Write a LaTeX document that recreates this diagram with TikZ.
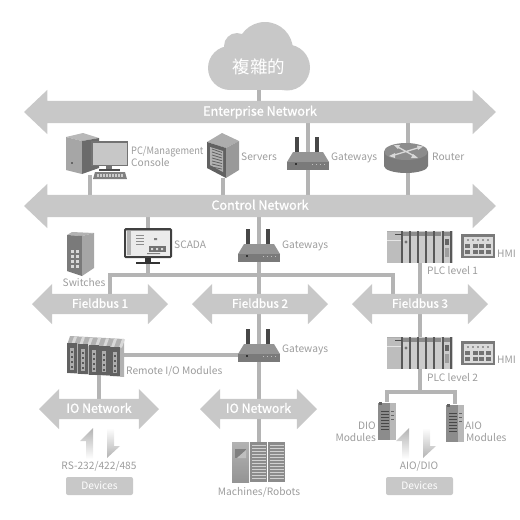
\documentclass[tikz,border=0pt]{standalone}
\usepackage{fontspec}
\usetikzlibrary{shapes.arrows,backgrounds}
\setmainfont{Noto Sans CJK TC}
\newfontfamily\netfont[FakeBold=1.2]{Noto Sans CJK TC}
\definecolor{arrowgray}{HTML}{C8C8C8}
\definecolor{linegray}{HTML}{B4B4B4}
\definecolor{labelgray}{HTML}{9C9C9C}
\tikzset{
  x=1pt,y=-1pt,
  bigarrow/.style={shape=double arrow,fill=arrowgray,text=white,inner sep=0pt,outer sep=0pt,
    text height=14.7pt,text depth=7.3pt,minimum width=44pt,double arrow head extend=11pt,
    double arrow tip angle=87,font=\netfont\fontsize{12.6}{13}\selectfont},
  smallarrow/.style={bigarrow,text height=13.8pt,text depth=6.2pt,minimum width=40pt,
    double arrow head extend=10pt,double arrow tip angle=90,font=\netfont\fontsize{11.8}{13}\selectfont},
  ioarrow/.style={smallarrow,font=\netfont\fontsize{12.4}{13}\selectfont},
  conn/.style={draw=linegray,line width=3.2pt},
  lbl/.style={text=labelgray,inner sep=0pt,text height=7.4pt,text depth=0pt,font=\fontsize{10.2}{12}\selectfont},
  icon/.style={inner sep=0pt,outer sep=0pt},
  devbox/.style={fill=arrowgray,rounded corners=2pt,text=white,inner sep=0pt,text height=7.4pt,text depth=0pt,
    font=\fontsize{10.2}{12}\selectfont,minimum width=67pt,minimum height=18pt},
  gatewaypic/.pic={
    \fill[black!72] (8,0) rectangle (12,16);
    \fill[black!72] (28,0) rectangle (32,16);
    \fill[black!42] (6,15) -- (36,15) -- (42,25) -- (0,25) -- cycle;
    \fill[black!52] (0,25) rectangle (42,33);
    \fill[black!80] (8,26) rectangle (10,28);
    \foreach \q in {25,29,33,37} \fill[black!25] (\q,27) rectangle (\q+1,28);
  },
  plcpic/.pic={
    \fill[black!20] (0,0) rectangle (66,32);
    \fill[black!26] (0,0) rectangle (14,32);
    \fill[black!32] (0,0) rectangle (14,1);
    \draw[black!10,line width=.6pt] (0,9) -- (14,9);
    \foreach \q in {15,23,31,39,47,56,64}{
      \fill[black!65] (\q-.7,0) rectangle (\q+.7,32);
    }
    \foreach \q in {16,24,32,40,48,57}{
      \fill[black!45] (\q,1) rectangle (\q+6,5);
    }
    \fill[black!70] (8,3) rectangle (15,4);
    \fill[black!55] (19,11) circle (1.6);
    \fill[black!60] (58,8) rectangle (62,14);
    \fill[black!38] (58,17) rectangle (62,26);
  },
  hmipic/.pic={
    \fill[black!52] (0,0) rectangle (34,24);
    \fill[black!14] (2.5,2.5) rectangle (31.5,21.5);
    \foreach \q in {6,11,16,21,26}\fill[black!40] (\q,5) rectangle (\q+2,7);
    \foreach \q in {5,13,19,26}{
      \fill[black!55] (\q-1,10) rectangle (\q+4,14);
      \fill[black!55] (\q-1,16) rectangle (\q+4,20);
    }
  },
  modulepic/.pic={
    \fill[black!45] (0,1) rectangle (18,38);
    \fill[black!28] (12,1) rectangle (18,38);
    \fill[black!62] (1,0) rectangle (4,3);
    \foreach \q in {9,12,15,18,21,24,27}\fill[black!72] (3,\q) rectangle (11,\q+1.2);
    \foreach \q in {9,13,17}\fill[black!60] (13,\q) rectangle (16,\q+1);
  },
  updownpic/.pic={
    \shade[top color=black!30,bottom color=white] (13,0) -- (0,13) -- (6,13) -- (6,31) -- (13,31) -- cycle;
    \shade[top color=white,bottom color=black!30] (27,0) -- (34,0) -- (34,18) -- (40,18) -- (27,30) -- cycle;
  }
}
\pgfdeclarelayer{under}
\pgfsetlayers{under,main}
\begin{document}
\begin{tikzpicture}
\useasboundingbox (0,0) rectangle (520,520);

% cloud
\fill[arrowgray] (230,68) circle (22);
\fill[arrowgray] (237,46) circle (13);
\fill[arrowgray] (265,50) circle (28);
\fill[arrowgray] (287,67.5) circle (23);
\fill[arrowgray] (230,60) rectangle (287,90);
\node[icon,text=white,font=\fontsize{17.5}{18}\selectfont] (cloud) at (259,67) {複雜的};

% network arrows
\node[bigarrow,minimum height=472pt] (ent) at (260,112) {Enterprise Network};
\node[bigarrow,minimum height=472pt] (ctrl) at (260,206) {Control Network};
\node[smallarrow,minimum height=136pt] (fb1) at (100,304) {Fieldbus 1};
\node[smallarrow,minimum height=136pt] (fb2) at (260,304) {Fieldbus 2};
\node[smallarrow,minimum height=136pt] (fb3) at (420,304) {Fieldbus 3};
\node[ioarrow,minimum height=120pt] (io1) at (99,409) {IO Network};
\node[ioarrow,minimum height=117pt] (io2) at (258.5,409) {IO Network};

% PC
\node[icon,minimum width=63pt,minimum height=46pt] (pc) at (96.5,156) {};
\coordinate (pcdrop) at (90,175);
\fill[black!28] (66,137) -- (83,133) -- (99,138) -- (82,141) -- cycle;
\fill[black!35] (66,137) -- (82,141) -- (82,174) -- (66,170) -- cycle;
\fill[black!58] (82,141) -- (99,138) -- (99,168) -- (82,174) -- cycle;
\fill[black!60] (71,162) rectangle (73,164);
\fill[black!55] (91,141) rectangle (128,166);
\fill[black!22] (92.5,142.5) rectangle (126.5,164.5);
\fill[black!55] (106,166) rectangle (112,169);
\fill[black!70] (99,169) rectangle (120,170.5);
\fill[black!50] (95,172) -- (125,172) -- (127,179) -- (93,179) -- cycle;
\foreach \q in {97,100,...,122}\fill[black!20] (\q,174) rectangle (\q+1.7,177);

% servers
\node[icon,minimum width=32pt,minimum height=45pt] (srv) at (223,155.5) {};
\fill[black!32] (222,133) -- (239,141) -- (226,148) -- (207,142) -- cycle;
\fill[black!62] (207,142) -- (226,148) -- (226,178) -- (207,168) -- cycle;
\fill[black!40] (226,148) -- (239,141) -- (239,170) -- (226,178) -- cycle;
\fill[black!30] (210,147) -- (223,151) -- (223,172) -- (210,165) -- cycle;
\foreach \q in {0,3,...,18}\draw[black!62,line width=.8pt] (212,149+\q) -- (222,152.5+\q*.92);

% gateways
\pic at (287,137) {gatewaypic};
\node[icon,minimum width=42pt,minimum height=33pt] (gw1) at (308,153.5) {};
\pic at (238,229) {gatewaypic};
\node[icon,minimum width=42pt,minimum height=33pt] (gw2) at (259.5,245.5) {};
\pic at (238,329) {gatewaypic};
\node[icon,minimum width=42pt,minimum height=33pt] (gw3) at (259.5,346.5) {};

% router
\node[icon,minimum width=44pt,minimum height=30pt] (router) at (408,158) {};
\fill[black!52] (384,152) -- (428,152) -- (428,166) arc[start angle=0,end angle=180,x radius=22,y radius=7] -- cycle;
\fill[black!45] (406,151.5) ellipse[x radius=22,y radius=8.5];
\draw[white!85!black,line width=1.3pt] (391,156) -- (421,147) (396,146) -- (416,157);
\fill[white!85!black] (389,156) -- (395,153) -- (395,158) -- cycle;
\fill[white!85!black] (423,146.5) -- (417,145.5) -- (418,150) -- cycle;
\fill[white!85!black] (394,145) -- (400,145) -- (398,149) -- cycle;
\fill[white!85!black] (418,158) -- (411,158) -- (413,154) -- cycle;

% switch
\node[icon,minimum width=27pt,minimum height=43pt] (sw) at (80.5,253.5) {};
\fill[black!30] (67,235) -- (72,232) -- (94,233) -- (82,236) -- cycle;
\fill[black!52] (67,235) -- (82,236) -- (82,276) -- (67,271) -- cycle;
\fill[black!35] (82,236) -- (94,233) -- (94,268) -- (82,276) -- cycle;
\foreach \q in {250,255,260,265}{
  \fill[black!15] (71,\q-.5) rectangle (74,\q+2.5);
  \fill[black!15] (76,\q) rectangle (79,\q+3);
}

% SCADA
\node[icon,minimum width=48pt,minimum height=36pt] (scada) at (148,246) {};
\fill[black!75,rounded corners=1.5pt] (124,228) rectangle (172,258);
\fill[black!8] (126,230) rectangle (170,256);
\fill[black!30] (127,231) rectangle (131,255);
\fill[black!40] (126,230) rectangle (170,231);
\foreach \q in {235,238,241,244}\fill[black!45] (136,\q) rectangle (144,\q+1);
\fill[black!55] (149,246) rectangle (166,252);
\fill[black!15] (151,248) rectangle (153,250) (156,248) rectangle (158,250) (161,248) rectangle (163,250);
\fill[black!50] (154,238) rectangle (157,240) (147,253) rectangle (160,254);
\fill[black!80] (145,258) rectangle (151,262);
\fill[black!80] (136,262) rectangle (160,264);

% PLC + HMI
\pic at (387,231) {plcpic};
\node[icon,minimum width=66pt,minimum height=32pt] (plc1) at (420,247) {};
\pic at (461,234) {hmipic};
\node[icon,minimum width=34pt,minimum height=24pt] (hmi1) at (478,246) {};
\pic at (387,337) {plcpic};
\node[icon,minimum width=66pt,minimum height=32pt] (plc2) at (420,353) {};
\pic at (461,341) {hmipic};
\node[icon,minimum width=34pt,minimum height=24pt] (hmi2) at (478,353) {};

% remote IO
\node[icon,minimum width=57pt,minimum height=42pt] (rio) at (95.5,356) {};
\fill[black!30] (70,336) -- (124,339) -- (124,377) -- (67,373) -- (67,345) -- cycle;
\foreach \q in {74,82,...,122}\fill[black!15] (\q,336.5+\q*.05-3.5) -- (\q+3,336.7+\q*.05-3.5) -- (\q,345+\q*.05-3.5) -- (\q-3,345+\q*.05-3.5) -- cycle;
\foreach \i in {0,...,4}{
  \pgfmathsetmacro\xa{67+10.8*\i}
  \pgfmathsetmacro\ya{343+\i*0.9}
  \pgfmathsetmacro\yb{373+\i*0.8}
  \fill[black!62] (\xa,\ya) rectangle (\xa+10.2,\yb);
  \fill[black!32] (\xa+3,\ya+5) rectangle (\xa+7,\yb-3);
  \foreach \q in {8,13,18,23}\fill[black!65] (\xa+4,\ya+\q) rectangle (\xa+6,\ya+\q+2);
}

% machines
\node[icon,minimum width=53pt,minimum height=40pt] (mach) at (258.5,462) {};
\shade[top color=black!30,bottom color=black!42] (232,442) rectangle (249,482);
\fill[black!50] (235,449) rectangle (246,458);
\fill[black!25] (237,458) -- (246,450) -- (246,458) -- cycle;
\foreach \xa in {250,268}{
  \fill[black!45] (\xa,442) rectangle (\xa+17,482);
  \foreach \q in {445,448,...,478}\fill[black!18] (\xa+1.5,\q) rectangle (\xa+15.5,\q+1.4);
}

% modules
\pic at (378,402) {modulepic};
\node[icon,minimum width=18pt,minimum height=38pt] (dio) at (387,421) {};
\pic at (446,404) {modulepic};
\node[icon,minimum width=18pt,minimum height=38pt] (aio) at (455,423) {};

% up/down arrows
\pic at (80,428) {updownpic};
\pic at (396,428) {updownpic};

% device boxes
\node[devbox] (dev1) at (99.5,486) {Devices};
\node[devbox] (dev2) at (419.5,486) {Devices};

% labels
\node[lbl,anchor=west] (lpc1) at (131,150.5) {\scalebox{0.91}[1]{PC/Management}};
\node[lbl,anchor=west] (lpc2) at (131,162.5) {Console};
\node[lbl,anchor=west] (lsrv) at (241,157) {Servers};
\node[lbl,anchor=west] (lgw1) at (331,157) {Gateways};
\node[lbl,anchor=west] (lrt) at (432,157) {Router};
\node[lbl,anchor=west] (lsc) at (174,245) {SCADA};
\node[lbl,anchor=west] (lgw2) at (282,245) {Gateways};
\node[lbl,anchor=west] (lh1) at (497,254) {HMI};
\node[lbl,anchor=west] (lp1) at (427,271) {PLC level 1};
\node[lbl] (lsw) at (84,283) {Switches};
\node[lbl,anchor=west] (lgw3) at (282,349) {Gateways};
\node[lbl,anchor=west] (lh2) at (497,360) {HMI};
\node[lbl,anchor=west] (lrio) at (126,371) {Remote I/O Modules};
\node[lbl,anchor=west] (lp2) at (427,378) {PLC level 2};
\node[lbl,anchor=east] (ld1) at (376,426) {DIO};
\node[lbl,anchor=east] (ld2) at (376,438) {Modules};
\node[lbl,anchor=west] (la1) at (465,426) {AIO};
\node[lbl,anchor=west] (la2) at (466,438) {Modules};
\node[lbl] (lrs) at (99,466) {RS-232/422/485};
\node[lbl] (lad) at (419,466) {AIO/DIO};
\node[lbl] (lm) at (259,492) {Machines/Robots};

% connectors
\coordinate (cloudfoot) at (259,88);
\coordinate (fb1up) at (110,275);
\coordinate (fb3up) at (393,275);
\coordinate (branch) at (420,392);
\coordinate (riox) at (99,370);
\coordinate (rioright) at (120,355);
\begin{pgfonlayer}{under}
\draw[conn] (cloudfoot) -- (cloudfoot |- ent);
\draw[conn] (pcdrop) -- (pcdrop |- ctrl);
\draw[conn] (srv) -- (srv |- ctrl);
\draw[conn] (gw1 |- ent) -- (gw1 |- ctrl);
\draw[conn] (router |- ent) -- (router |- ctrl);
\draw[conn] (scada |- ctrl) -- (scada |- fb1up);
\draw[conn] (cloudfoot |- ctrl) -- (cloudfoot |- mach);
\draw[conn] (fb1 -| fb1up) -- (fb1up) -- (fb3up) -- (fb3 -| fb3up);
\draw[conn] (rioright) -- (rioright -| gw3);
\draw[conn] (riox) -- (riox |- io1);
\draw[conn] (plc1) -- (plc2);
\draw[conn] (plc2) -- (branch);
\draw[conn] (dio) |- (branch) -| (aio);
\end{pgfonlayer}
\end{tikzpicture}
\end{document}
